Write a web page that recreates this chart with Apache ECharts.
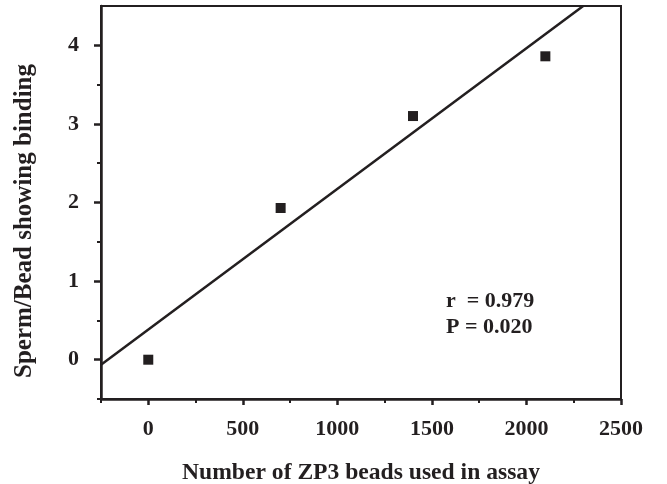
<!DOCTYPE html>
<html>
<head>
<meta charset="utf-8">
<script src="https://cdn.jsdelivr.net/npm/echarts@6/dist/echarts.min.js"></script>
<style>html,body{margin:0;padding:0;background:#fff;}#c{width:667px;height:484px;}</style>
</head>
<body>
<div id="c"></div>
<script>
var beads = [0, 700, 1400, 2100];
var binding = [0, 1.93, 3.10, 3.86];
var fitX = [-250, 2300];
var fitY = [-0.065, 4.5];
var xTicks = [0, 500, 1000, 1500, 2000, 2500];
var xMinorTicks = [-250, 250, 750, 1250, 1750, 2250];
var yTicks = [0, 1, 2, 3, 4];
var yMinorTicks = [-0.5, 0.5, 1.5, 2.5, 3.5];
var statsText = ['r  = 0.979', 'P = 0.020'];

var ink = '#231f20';
var font = 'Liberation Serif';
var plain = function (v) { return String(v); };
var chart = echarts.init(document.getElementById('c'));
chart.setOption({
  animation: false,
  grid: { left: 101, right: 46, top: 6, bottom: 85, show: true, borderColor: ink, borderWidth: 2, containLabel: false, outerBoundsMode: 'none' },
  xAxis: [{
    type: 'value', min: -250, max: 2500, position: 'bottom',
    name: 'Number of ZP3 beads used in assay', nameLocation: 'middle', nameGap: 62,
    nameTextStyle: { fontFamily: font, fontWeight: 'bold', fontSize: 23.6, color: ink },
    axisLine: { show: true, onZero: false, lineStyle: { color: ink, width: 2.5 } },
    axisTick: { show: true, length: 6, lineStyle: { color: ink, width: 2.5 }, customValues: xTicks },
    axisLabel: { show: true, margin: 19, fontFamily: font, fontWeight: 'bold', fontSize: 22, color: ink, customValues: xTicks, formatter: plain },
    splitLine: { show: false }
  }, {
    type: 'value', min: -250, max: 2500, position: 'bottom',
    axisLine: { show: false, onZero: false },
    axisTick: { show: true, length: 4, lineStyle: { color: ink, width: 2 }, customValues: xMinorTicks },
    axisLabel: { show: false },
    splitLine: { show: false }
  }],
  yAxis: [{
    type: 'value', min: -0.5, max: 4.5, position: 'left',
    name: 'Sperm/Bead showing binding', nameLocation: 'middle', nameGap: 64,
    nameTextStyle: { fontFamily: font, fontWeight: 'bold', fontSize: 25, color: ink, padding: [0, 37, 0, 0] },
    axisLine: { show: true, onZero: false, lineStyle: { color: ink, width: 2.5 } },
    axisTick: { show: true, length: 7, lineStyle: { color: ink, width: 2.5 }, customValues: yTicks },
    axisLabel: { show: true, margin: 22, fontFamily: font, fontWeight: 'bold', fontSize: 22, color: ink, customValues: yTicks, formatter: plain },
    splitLine: { show: false }
  }, {
    type: 'value', min: -0.5, max: 4.5, position: 'left',
    axisLine: { show: false, onZero: false },
    axisTick: { show: true, length: 4, lineStyle: { color: ink, width: 2 }, customValues: yMinorTicks },
    axisLabel: { show: false },
    splitLine: { show: false }
  }],
  series: [{
    type: 'line',
    data: fitX.map(function (x, i) { return [x, fitY[i]]; }),
    showSymbol: false, symbol: 'none',
    lineStyle: { color: ink, width: 2.5 }
  }, {
    type: 'scatter',
    data: beads.map(function (x, i) { return [x, binding[i]]; }),
    symbol: 'rect', symbolSize: 10,
    itemStyle: { color: ink, opacity: 1 }
  }],
  graphic: statsText.map(function (t, i) {
    return {
      type: 'text', left: 446, top: 290 + i * 26,
      style: { text: t, fontFamily: font, fontWeight: 'bold', fontSize: 22, fill: ink }
    };
  })
});
</script>
</body>
</html>
